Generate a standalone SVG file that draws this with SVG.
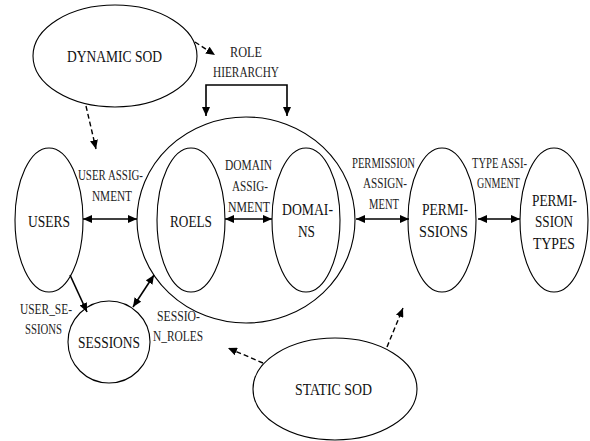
<svg xmlns="http://www.w3.org/2000/svg" width="590" height="441" viewBox="0 0 590 441">
<style>
.n{fill:none;stroke:#000;stroke-width:1.1}
text{font-family:'Liberation Serif','DejaVu Serif',serif;text-anchor:middle}
.t{font-size:17px;fill:#111}
.l{font-size:14px;fill:#222}
.a{fill:none;stroke:#000;stroke-width:1.6}
.d{fill:none;stroke:#000;stroke-width:1.4;stroke-dasharray:5,3}
</style>
<defs>
<marker id="ah" markerUnits="userSpaceOnUse" markerWidth="10" markerHeight="8" refX="9" refY="4" orient="auto-start-reverse">
<path d="M0,0 L9,4 L0,8 z" fill="#000"/>
</marker>
</defs>
<rect width="590" height="441" fill="#fff"/>
<g id="dynamic-sod">
<ellipse class="n" cx="115" cy="56" rx="82" ry="51"/>
<text class="t" x="114.5" y="62" textLength="95" lengthAdjust="spacingAndGlyphs">DYNAMIC SOD</text>
</g>
<g id="role-domain-group">
<ellipse class="n" cx="246" cy="220" rx="109" ry="103"/>
</g>
<g id="users">
<ellipse class="n" cx="49" cy="220" rx="34" ry="72"/>
<text class="t" x="49" y="227" textLength="42" lengthAdjust="spacingAndGlyphs">USERS</text>
</g>
<g id="roels">
<ellipse class="n" cx="191" cy="220" rx="34" ry="72"/>
<text class="t" x="191" y="227" textLength="42" lengthAdjust="spacingAndGlyphs">ROELS</text>
</g>
<g id="domains">
<ellipse class="n" cx="306" cy="220" rx="34" ry="72"/>
<text class="t" x="307.5" y="215" textLength="51" lengthAdjust="spacingAndGlyphs">DOMAI-</text>
<text class="t" x="306.5" y="237" textLength="17" lengthAdjust="spacingAndGlyphs">NS</text>
</g>
<g id="permissions">
<ellipse class="n" cx="442" cy="220" rx="34" ry="72"/>
<text class="t" x="445" y="215" textLength="46" lengthAdjust="spacingAndGlyphs">PERMI-</text>
<text class="t" x="443.5" y="237" textLength="49" lengthAdjust="spacingAndGlyphs">SSIONS</text>
</g>
<g id="permission-types">
<ellipse class="n" cx="554" cy="220" rx="34" ry="72"/>
<text class="t" x="554.5" y="206" textLength="45" lengthAdjust="spacingAndGlyphs">PERMI-</text>
<text class="t" x="554" y="227" textLength="38" lengthAdjust="spacingAndGlyphs">SSION</text>
<text class="t" x="554" y="249" textLength="42" lengthAdjust="spacingAndGlyphs">TYPES</text>
</g>
<g id="sessions">
<circle class="n" cx="109" cy="342" r="41"/>
<text class="t" x="109" y="348" textLength="62" lengthAdjust="spacingAndGlyphs">SESSIONS</text>
</g>
<g id="static-sod">
<ellipse class="n" cx="335" cy="389" rx="82" ry="51"/>
<text class="t" x="333.5" y="395" textLength="77" lengthAdjust="spacingAndGlyphs">STATIC SOD</text>
</g>
<g id="connectors">
<line class="a" x1="83" y1="219" x2="137" y2="219" marker-start="url(#ah)" marker-end="url(#ah)"/>
<line class="a" x1="225" y1="219" x2="272" y2="219" marker-start="url(#ah)" marker-end="url(#ah)"/>
<line class="a" x1="356" y1="219" x2="409" y2="219" marker-start="url(#ah)" marker-end="url(#ah)"/>
<line class="a" x1="478" y1="219" x2="520" y2="219" marker-start="url(#ah)" marker-end="url(#ah)"/>
<line class="a" x1="70" y1="275" x2="87" y2="312" marker-end="url(#ah)"/>
<line class="a" x1="133" y1="307" x2="154" y2="275" marker-start="url(#ah)" marker-end="url(#ah)"/>
<polyline class="a" points="206,116 206,85 287,85 287,116" marker-start="url(#ah)" marker-end="url(#ah)"/>
<line class="d" x1="195" y1="42" x2="215" y2="55" marker-end="url(#ah)"/>
<line class="d" x1="86" y1="106" x2="96" y2="149" marker-end="url(#ah)"/>
<line class="d" x1="263" y1="363" x2="228" y2="348" marker-end="url(#ah)"/>
<line class="d" x1="387" y1="347" x2="403" y2="308" marker-end="url(#ah)"/>
</g>
<g id="labels">
<text class="l" x="246" y="57" textLength="32" lengthAdjust="spacingAndGlyphs">ROLE</text>
<text class="l" x="246" y="77" textLength="66" lengthAdjust="spacingAndGlyphs">HIERARCHY</text>
<text class="l" x="110.5" y="180" textLength="65" lengthAdjust="spacingAndGlyphs">USER ASSIG-</text>
<text class="l" x="112" y="201" textLength="40" lengthAdjust="spacingAndGlyphs">NMENT</text>
<text class="l" x="248.5" y="170" textLength="47" lengthAdjust="spacingAndGlyphs">DOMAIN</text>
<text class="l" x="250" y="191" textLength="36" lengthAdjust="spacingAndGlyphs">ASSIG-</text>
<text class="l" x="249" y="212" textLength="42" lengthAdjust="spacingAndGlyphs">NMENT</text>
<text class="l" x="383.5" y="168" textLength="63" lengthAdjust="spacingAndGlyphs">PERMISSION</text>
<text class="l" x="385" y="188" textLength="44" lengthAdjust="spacingAndGlyphs">ASSIGN-</text>
<text class="l" x="384" y="209" textLength="30" lengthAdjust="spacingAndGlyphs">MENT</text>
<text class="l" x="499.5" y="168" textLength="55" lengthAdjust="spacingAndGlyphs">TYPE ASSI-</text>
<text class="l" x="498.5" y="188" textLength="43" lengthAdjust="spacingAndGlyphs">GNMENT</text>
<text class="l" x="46" y="314" textLength="52" lengthAdjust="spacingAndGlyphs">USER_SE-</text>
<text class="l" x="43.5" y="334" textLength="37" lengthAdjust="spacingAndGlyphs">SSIONS</text>
<text class="l" x="178.5" y="321" textLength="43" lengthAdjust="spacingAndGlyphs">SESSIO-</text>
<text class="l" x="178" y="341" textLength="50" lengthAdjust="spacingAndGlyphs">N_ROLES</text>
</g>
</svg>
